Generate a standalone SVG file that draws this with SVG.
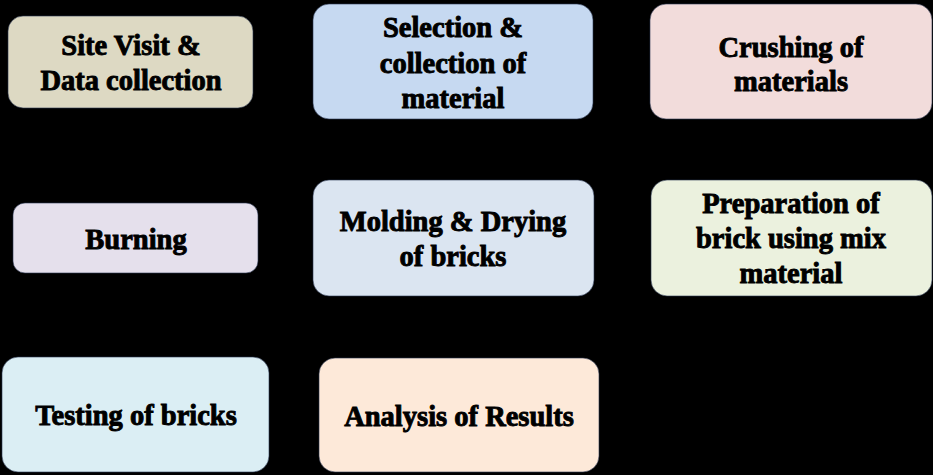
<svg xmlns="http://www.w3.org/2000/svg" width="933" height="475" viewBox="0 0 933 475">
<style>
.box{stroke:#2a3550;stroke-width:1;stroke-opacity:0.6}
.t{font-family:'Liberation Serif','DejaVu Serif',serif;font-weight:700;font-size:28.5px;fill:#000;text-anchor:middle;stroke:#000;stroke-width:0.9}
</style>
<rect width="933" height="475" fill="#000"/>
<g id="connectors"></g>
<g id="site-visit">
<rect class="box" x="8" y="16" width="245" height="92" rx="15" fill="#DDD9C3"/>
<text class="t" x="131" y="55">Site Visit &amp;</text>
<text class="t" x="131" y="90">Data collection</text>
</g>
<g id="selection">
<rect class="box" x="313" y="4" width="280" height="115" rx="16" fill="#C6D9F1"/>
<text class="t" x="453" y="37">Selection &amp;</text>
<text class="t" x="453" y="72.5">collection of</text>
<text class="t" x="453" y="108">material</text>
</g>
<g id="crushing">
<rect class="box" x="650" y="4" width="282" height="115" rx="16" fill="#F2DCDB"/>
<text class="t" x="791" y="57">Crushing of</text>
<text class="t" x="791" y="91">materials</text>
</g>
<g id="burning">
<rect class="box" x="13" y="203" width="245" height="70" rx="12" fill="#E5E0EC"/>
<text class="t" x="136" y="249">Burning</text>
</g>
<g id="molding">
<rect class="box" x="313" y="180" width="281" height="116" rx="16" fill="#DBE5F1"/>
<text class="t" x="453" y="231">Molding &amp; Drying</text>
<text class="t" x="453" y="266">of bricks</text>
</g>
<g id="preparation">
<rect class="box" x="651" y="180" width="281" height="116" rx="16" fill="#EBF1DE"/>
<text class="t" x="791" y="213">Preparation of</text>
<text class="t" x="791" y="248">brick using mix</text>
<text class="t" x="791" y="283">material</text>
</g>
<g id="testing">
<rect class="box" x="2" y="357" width="267" height="115" rx="16" fill="#DBEEF4"/>
<text class="t" x="136" y="425">Testing of bricks</text>
</g>
<g id="analysis">
<rect class="box" x="319" y="358" width="280" height="114" rx="16" fill="#FDE9D9"/>
<text class="t" x="459" y="426">Analysis of Results</text>
</g>
</svg>
